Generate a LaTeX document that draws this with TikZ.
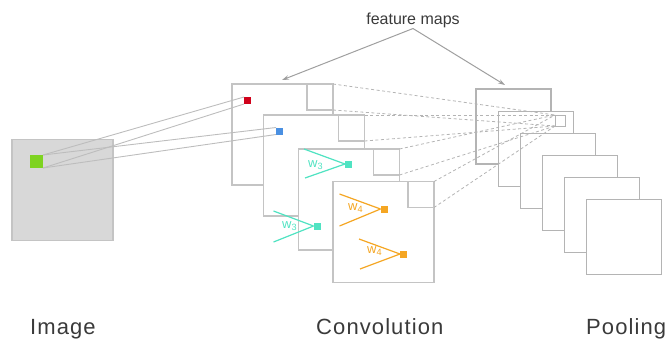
\documentclass[tikz,border=0pt]{standalone}
\usepackage{fontspec}
\setmainfont{Liberation Sans}
\usetikzlibrary{arrows.meta}
\definecolor{framegray}{HTML}{C4C4C4}
\definecolor{poolgray}{HTML}{B4B4B4}
\definecolor{linkgray}{HTML}{BDBDBD}
\definecolor{imgfill}{HTML}{D8D8D8}
\definecolor{pixgreen}{HTML}{7ED321}
\definecolor{pixred}{HTML}{D0021B}
\definecolor{pixblue}{HTML}{4A90E2}
\definecolor{kerteal}{HTML}{50E3C2}
\definecolor{kerorange}{HTML}{F5A623}
\definecolor{labelgray}{HTML}{3A3A3A}
\begin{document}
\begin{tikzpicture}[x=1pt, y=-1pt,
	box/.style={inner sep=0pt, outer sep=0pt, minimum width=#1, minimum height=#1},
	fmap/.style={box=101pt, draw=framegray, fill=white, line width=1.2pt},
	win/.style={box=26pt, draw=framegray, line width=1.2pt},
	pmap/.style={box=75pt, draw=poolgray, fill=white, line width=1.2pt},
	pix/.style={box=#1, inner sep=0pt, outer sep=0pt},
	link/.style={draw=linkgray, line width=0.9pt},
	proj/.style={draw=poolgray, line width=0.8pt, dash pattern=on 3pt off 2.5pt},
	callout/.style={draw=gray!75, line width=1pt, -{Stealth[length=7pt, width=4.5pt]}},
	kline/.style={line width=1.2pt, draw=#1},
	klabel/.style={text=#1, font=\fontsize{13}{13}\selectfont, inner sep=0pt, anchor=base west},
	caption/.style={text=labelgray, font=\fontsize{22}{22}\selectfont\addfontfeatures{LetterSpace=5}, inner sep=0pt, anchor=base west}]
	\useasboundingbox (0,0) rectangle (668,338);

	% input image
	\node[box=101pt, draw=framegray, fill=imgfill, line width=1.2pt] (img) at (62.5,190) {};
	\node[pix=13pt, fill=pixgreen] (g) at (36.5,161.5) {};

	% convolution feature maps
	\node[fmap] (f1) at (282.5,134.5) {};
	\node[win, anchor=north east] (k1) at (f1.north east) {};
	\node[fmap] (f2) at (314,165.5) {};
	\node[win, anchor=north east] (k2) at (f2.north east) {};
	\node[fmap] (f3) at (349,199.5) {};
	\node[win, anchor=north east] (k3) at (f3.north east) {};
	\node[fmap] (f4) at (383.5,232) {};
	\node[win, anchor=north east] (k4) at (f4.north east) {};

	\node[pix=7pt, fill=pixred] (r) at (247.5,100.5) {};
	\node[pix=7pt, fill=pixblue] (b) at (279.5,131) {};
	\draw[link] (g.north east) -- (r.north west);
	\draw[link] (g.south east) -- (r.south west);
	\draw[link] (g.north east) -- (b.north west);
	\draw[link] (g.south east) -- (b.south west);

	% kernels w3
	\node[pix=7pt, fill=kerteal] (t1) at (348.5,164) {};
	\draw[kline=kerteal] (t1.west) -- ++(-41,-15);
	\draw[kline=kerteal] (t1.west) -- ++(-40,14);
	\node[klabel=kerteal] (t1l) at (308,167) {w\textsubscript{3}};
	\node[pix=7pt, fill=kerteal] (t2) at (317,226) {};
	\draw[kline=kerteal] (t2.west) -- ++(-40,-15);
	\draw[kline=kerteal] (t2.west) -- ++(-40,16);
	\node[klabel=kerteal] (t2l) at (282,228) {w\textsubscript{3}};

	% kernels w4
	\node[pix=7pt, fill=kerorange] (o1) at (384,209) {};
	\draw[kline=kerorange] (o1.west) -- ++(-41,-15);
	\draw[kline=kerorange] (o1.west) -- ++(-41,17);
	\node[klabel=kerorange] (o1l) at (348,210) {w\textsubscript{4}};
	\node[pix=7pt, fill=kerorange] (o2) at (403.5,254) {};
	\draw[kline=kerorange] (o2.west) -- ++(-41,-15);
	\draw[kline=kerorange] (o2.west) -- ++(-40,15);
	\node[klabel=kerorange] (o2l) at (367,253) {w\textsubscript{4}};

	% pooling maps
	\foreach \i in {1,...,6}
		\node[pmap] (p\i) at ({513.5+22.1*(\i-1)},{126.5+22.1*(\i-1)}) {};
	\node[box=10pt, minimum height=11pt, draw=poolgray, line width=1pt] (pw) at (560,120.5) {};
	\foreach \k in {1,...,4} {
		\draw[proj] (k\k.north east) -- (pw.north west);
		\draw[proj] (k\k.south east) -- (pw.south west);
	}

	% feature maps callout
	\node[text=labelgray, font=\fontsize{16}{16}\selectfont, inner sep=1pt, anchor=base] (fm) at (413,24) {feature maps};
	\coordinate (fa) at (282,80);
	\coordinate (fb) at (505,85);
	\draw[callout] (fm.south) -- (fa);
	\draw[callout] (fm.south) -- (fb);

	% captions
	\node[caption] (cimg) at (30,334) {Image};
	\node[caption] (cconv) at (316,334) {Convolution};
	\node[caption] (cpool) at (586,334) {Pooling};
\end{tikzpicture}
\end{document}
